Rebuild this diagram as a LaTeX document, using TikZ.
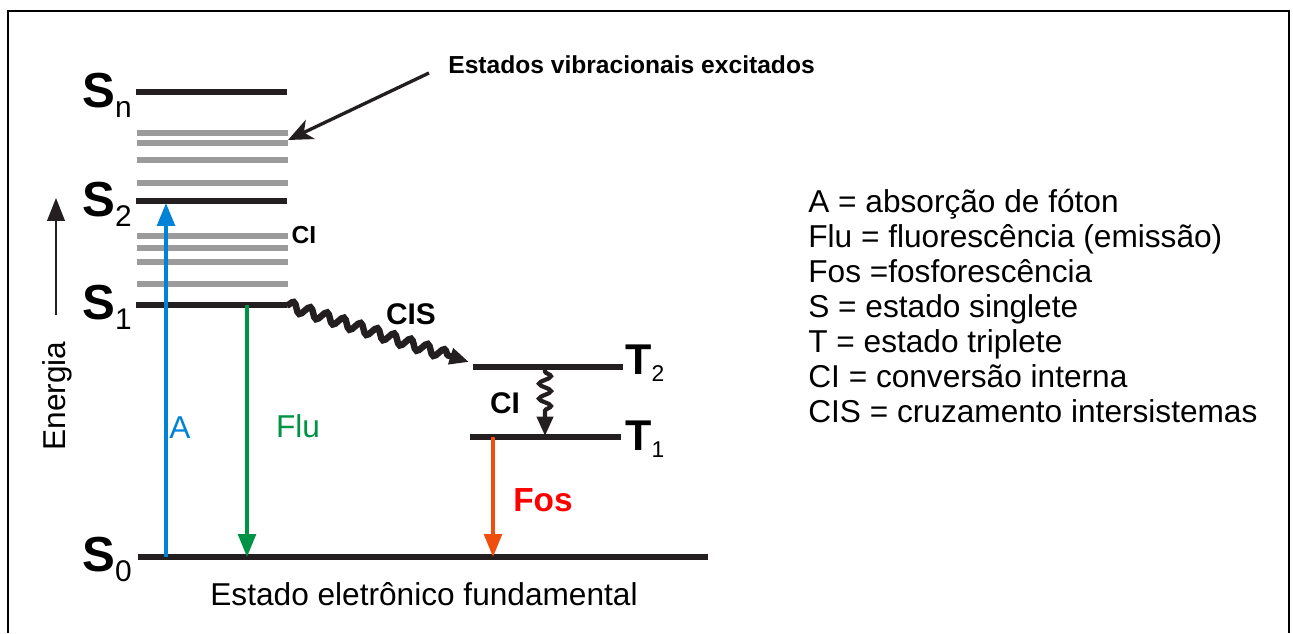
\documentclass[tikz,border=0pt]{standalone}
\usepackage{fontspec}
\setmainfont{Liberation Sans}
\usetikzlibrary{calc,positioning,arrows.meta,decorations.pathmorphing}
\definecolor{azul}{RGB}{0,131,214}
\definecolor{verde}{RGB}{0,146,69}
\definecolor{laranja}{RGB}{240,78,14}
\definecolor{vermelho}{RGB}{255,0,0}
\definecolor{preto}{RGB}{35,31,32}
\definecolor{cinza}{RGB}{155,155,155}
\newcommand{\singleto}[1]
	{%
	{\fontsize{28}{28}\selectfont\bfseries S}\raisebox{-6.2pt}{\fontsize{17}{17}\selectfont #1}%
	}
\newcommand{\tripleto}[1]
	{%
	{\fontsize{24.5}{24.5}\selectfont\bfseries T}\raisebox{-4.2pt}{\fontsize{13}{13}\selectfont #1}%
	}
\tikzset{
    nivel/.style={preto, line width=3.2pt},
    vib/.style={cinza, line width=3pt},
    transicao/.style={line width=2pt, -{Triangle[length=13pt,width=10pt]}},
    onda/.style={preto, decorate, -{Triangle[length=11pt,width=9pt]}},
    rotulo/.style={inner sep=0pt, font=\fontsize{18}{20}\selectfont},
}

\begin{document}
\begin{tikzpicture}[x=0.02cm, y=-0.02cm]
    \useasboundingbox (0,0) rectangle (1293,633);
    \draw[line width=1.1pt] (8,633) -- (8,11) -- (1289,11) -- (1289,633);

    % niveis singleto
    \coordinate (Sn) at (136,92);  \coordinate (Snd) at (287,92);
    \coordinate (S2) at (136,201); \coordinate (S2d) at (287,201);
    \coordinate (S1) at (136,305); \coordinate (S1d) at (287,305);
    \coordinate (S0) at (138,557); \coordinate (S0d) at (708,557);
    \foreach \y in {133,143,160,183,236,248,262,284}
        \draw[vib] (137,\y) -- (288,\y);
    \draw[nivel] (Sn) -- (Snd);
    \draw[nivel] (S2) -- (S2d);
    \draw[nivel] (S1) -- (S1d);
    \draw[nivel] (S0) -- (S0d);
    \node[anchor=base east, inner sep=0pt] (lSn) at (132,107) {\singleto{n}};
    \node[anchor=base east, inner sep=0pt] (lS2) at (132,216) {\singleto{2}};
    \node[anchor=base east, inner sep=0pt] (lS1) at (132,319) {\singleto{1}};
    \node[anchor=base east, inner sep=0pt] (lS0) at (132,571) {\singleto{0}};

    % niveis tripleto
    \coordinate (T2) at (473,367); \coordinate (T2d) at (623,367);
    \coordinate (T1) at (470,437); \coordinate (T1d) at (621,437);
    \draw[nivel] (T2) -- (T2d);
    \draw[nivel] (T1) -- (T1d);
    \node[anchor=base west, inner sep=0pt] (lT2) at (625,374) {\tripleto{2}};
    \node[anchor=base west, inner sep=0pt] (lT1) at (625,450) {\tripleto{1}};

    % transicoes radiativas
    \coordinate (A0) at (166,557); \coordinate (A2) at (166,203);
    \coordinate (F1) at (247,305); \coordinate (F0) at (247,557);
    \coordinate (P1) at (493,437); \coordinate (P0) at (493,557);
    \draw[transicao, azul] (A0) -- (A2);
    \draw[transicao, verde] (F1) -- (F0);
    \draw[transicao, laranja] (P1) -- (P0);
    \node[rotulo, azul] (lA) at (180,428) {A};
    \node[rotulo, verde] (lFlu) at (298,426) {Flu};
    \node[rotulo, vermelho, font=\fontsize{19}{20}\selectfont\bfseries] (lFos) at (543,500) {Fos};

    % transicoes nao radiativas
    \coordinate (C1) at (469,362);
    \coordinate (C2) at (545,368); \coordinate (C3) at (545,436);
    \draw[onda, line width=3.7pt, decoration={snake, amplitude=2.8pt, segment length=10pt, post length=10pt}] (S1d) -- (C1);
    \draw[onda, line width=2.4pt, decoration={snake, amplitude=3.4pt, segment length=8.5pt, pre length=2pt, post length=11pt}] (C2) -- (C3);
    \node[rotulo, font=\fontsize{14}{14}\selectfont\bfseries] (lCI) at (304,235) {CI};
    \node[rotulo, font=\fontsize{17}{17}\selectfont\bfseries] (lCIS) at (411,314) {CIS};
    \node[rotulo, font=\fontsize{17}{17}\selectfont\bfseries] (lCIT) at (505,403) {CI};

    % estados vibracionais
    \node[anchor=base west, inner sep=0pt, font=\fontsize{14}{15}\selectfont\bfseries] (vib) at (448,73) {Estados vibracionais excitados};
    \coordinate (V0) at (429,73); \coordinate (V1) at (288,140);
    \draw[preto, line width=1.9pt, -{Stealth[length=14pt,width=12pt,inset=4pt]}] (V0) -- (V1);

    % energia
    \coordinate (E0) at (56,315); \coordinate (E1) at (56,198);
    \draw[preto, line width=1.2pt, -{Triangle[length=13pt,width=10pt]}] (E0) -- (E1);
    \node[rotulo, rotate=90] (en) at (57,396) {Energia};
    \node[rotulo] (fund) at (424,594) {Estado eletrônico fundamental};

    % legenda
    \foreach \t [count=\i] in {A = absorção de fóton, Flu = fluorescência (emissão), Fos =fosforescência, S = estado singlete, T = estado triplete, CI = conversão interna, CIS = cruzamento intersistemas}
        \node[rotulo, anchor=base west] (leg\i) at (808,{212+35*(\i-1)}) {\t};
\end{tikzpicture}
\end{document}
